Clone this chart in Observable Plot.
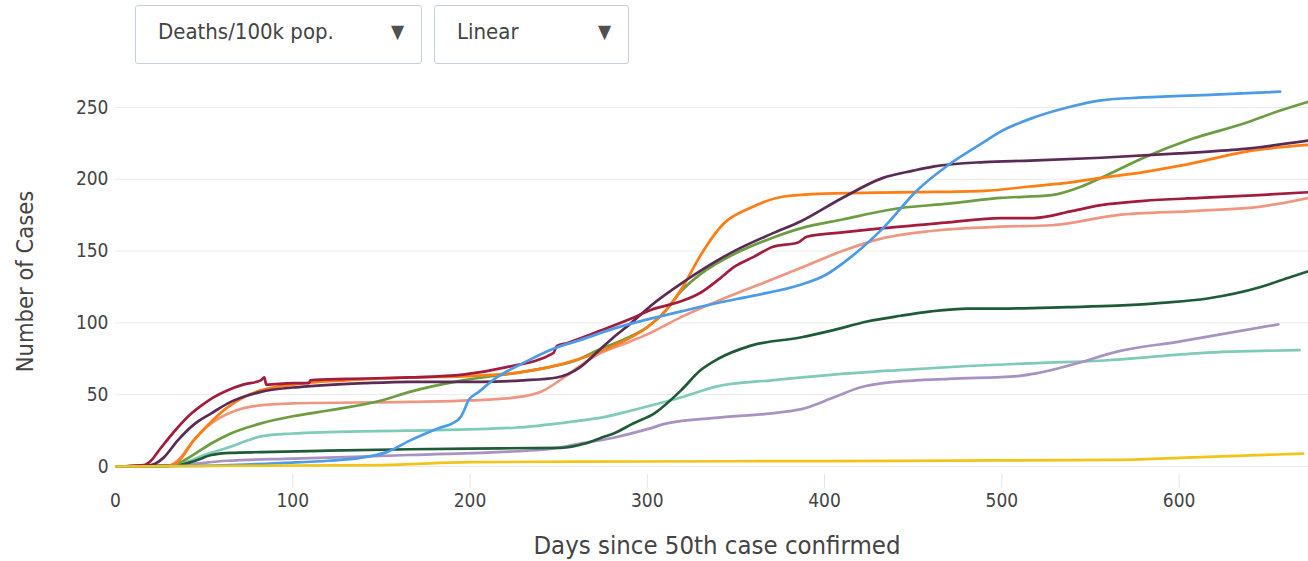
<!DOCTYPE html>
<html><head><meta charset="utf-8">
<script src="https://cdn.jsdelivr.net/npm/d3@7"></script>
<script src="https://cdn.jsdelivr.net/npm/@observablehq/plot@0.6"></script>
<style>
html,body{margin:0;padding:0;background:#fff;}
body{width:1308px;height:561px;overflow:hidden;font-family:"DejaVu Sans Condensed","DejaVu Sans",sans-serif;font-stretch:condensed;}
#controls{position:relative;width:1308px;height:70px;}
.dd{position:absolute;top:5px;height:59px;box-sizing:border-box;border:1px solid #c6cfdd;border-radius:3px;background:#fff;color:#444;font-size:22px;}
.dd .lbl{position:absolute;left:22px;top:0;line-height:52px;}
.dd .arr{position:absolute;top:0;line-height:50px;font-size:19px;color:#505050;}
#chart svg{display:block;}
</style>
</head><body>
<div id="controls">
  <div class="dd" style="left:135px;width:287px;"><span class="lbl">Deaths/100k pop.</span><span class="arr" style="left:255px;">&#9660;</span></div>
  <div class="dd" style="left:434px;width:195px;"><span class="lbl">Linear</span><span class="arr" style="left:163px;">&#9660;</span></div>
</div>
<div id="chart"></div>
<script>
// [day, deaths per 100k]
const seriesA = [[0,0],[30,0.5],[35,4],[44,18],[52,28],[59,34],[68,39],[78,42],[100,44],[166,45],[200,46],[225,48],[240,52],[253,62],[262,70],[272,78],[286,85],[300,92],[319,104],[349,120],[370,130],[390,140],[410,150],[433,159],[460,164],[499,167],[528,168],[565,175],[610,178],[646,181],[673,187]];
const seriesB = [[0,0],[35,1],[40,3],[50,8],[63,13],[72,17],[82,21],[100,23],[120,24],[166,25],[225,27],[262,32],[274,34],[291,39],[319,48],[340,56],[370,60],[405,64],[440,67],[481,70],[520,72],[560,74],[612,79],[668,81]];
const seriesC = [[0,0],[35,1],[63,4],[100,5.5],[166,8],[244,12],[262,16],[281,20],[300,26],[311,30],[340,34],[377,38],[387,40],[405,48],[420,55],[433,58],[470,61],[509,63],[520,65],[540,71],[565,80],[600,87],[656,99]];
const seriesD = [[0,0],[35,1],[45,4],[54,8],[65,9.5],[82,10],[120,11],[166,12],[200,12.5],[251,13],[265,16],[274,20],[281,23],[292,30],[304,37],[319,53],[330,67],[340,75],[358,84],[387,90],[405,95],[424,101],[443,105],[460,108],[481,110],[499,110],[537,111],[565,112],[590,114],[616,117],[646,125],[663,132],[673,136]];
const seriesE = [[0,0],[30,0.5],[35,2],[45,9],[54,16],[65,23],[82,30],[100,35],[120,39],[150,46],[166,52],[196,60],[225,65],[244,69],[260,74],[272,81],[286,88],[300,97],[310,108],[319,122],[330,134],[349,148],[370,159],[387,166],[410,172],[443,180],[470,183],[499,187],[528,189],[545,195],[556,201],[580,215],[607,228],[637,239],[655,247],[673,254]];
const seriesF = [[0,0],[30,0.5],[35,3],[44,18],[53,30],[63,41],[72,48],[82,53],[100,57],[130,60],[166,62],[200,63],[225,65],[244,69],[262,75],[281,84],[300,97],[310,108],[320,125],[330,147],[343,169],[358,180],[377,188],[400,190],[450,191],[490,192],[516,195],[540,198],[556,201],[580,205],[603,210],[641,220],[673,224]];
const seriesG = [[0,0],[20,1],[27,6],[35,18],[45,30],[54,37],[65,45],[82,52],[100,55],[110,56],[140,58],[166,59],[206,59],[230,60],[249,62],[262,69],[272,80],[281,90],[291,100],[302,112],[321,129],[349,150],[370,162],[387,171],[410,187],[433,201],[450,206],[462,209],[490,212],[516,213],[556,215],[600,218],[635,221],[673,227]];
const seriesH = [[0,0],[16,1],[20,4],[25,12],[35,27],[42,36],[48,42],[55,48],[63,53],[72,57],[82,60],[84,62],[85,57],[100,58],[109,58],[110,60],[130,61],[166,62],[196,64],[220,69],[247,79],[249,84],[255,86],[270,93],[291,103],[302,109],[319,115],[330,121],[340,130],[349,139],[360,146],[371,153],[385,156],[390,160],[410,163],[433,166],[470,170],[499,173],[518,173],[540,178],[556,182],[580,185],[612,187],[645,189],[673,191]];
const seriesI = [[0,0],[30,0.3],[60,0.8],[95,2.5],[120,4],[138,6],[153,10],[166,18],[175,23],[183,27],[190,30],[195,35],[197,40],[199,46],[205,52],[215,62],[230,72],[247,82],[262,88],[281,96],[302,103],[319,108],[340,114],[360,119],[385,126],[400,133],[415,146],[433,166],[452,192],[471,211],[490,226],[499,233],[518,243],[537,250],[556,255],[580,257],[620,259],[657,261]];
const seriesJ = [[0,0],[150,1],[200,3],[300,3.5],[400,3.8],[500,4.2],[565,4.6],[600,6],[670,9]];

const seriesNames = ["A", "B", "C", "D", "E", "F", "G", "H", "I", "J"];
const seriesData = [seriesA, seriesB, seriesC, seriesD, seriesE, seriesF, seriesG, seriesH, seriesI, seriesJ];
const seriesColors = ["#ef9683", "#7fcab8", "#a892c4", "#1f5b36", "#6b9d41", "#ff7d12", "#5a2b55", "#a41c3d", "#4b9be6", "#f2c417"];
const xTicks = [0, 100, 200, 300, 400, 500, 600];
const xTickMarks = [100, 200, 300, 400, 500, 600];
const yTicks = [0, 50, 100, 150, 200, 250];
const xTitle = "Days since 50th case confirmed";
const yTitle = "Number of Cases";

const rows = seriesNames.flatMap((name, i) => seriesData[i].map(([d, v]) => ({name, d, v})));

const font = "'DejaVu Sans Condensed', 'DejaVu Sans', sans-serif";
const chart = Plot.plot({
  width: 1308, height: 491,
  marginLeft: 115, marginRight: 0, marginTop: 10, marginBottom: 87,
  x: {domain: [0, 673]},
  y: {domain: [-5.57, 268.8]},
  color: {domain: seriesNames, range: seriesColors},
  style: {fontFamily: font, fontStretch: "condensed", fontSize: "19px", color: "#444", background: "#fff"},
  marks: [
    Plot.gridY(yTicks, {stroke: "#ebebeb", strokeOpacity: 1, strokeWidth: 1}),
    Plot.axisY(yTicks, {tickSize: 0, tickPadding: 7, label: null, fill: "#444", fontSize: 19}),
    Plot.axisX(xTickMarks, {tickSize: 14, stroke: "#e4e4e4", tickFormat: () => "", label: null}),
    Plot.axisX(xTicks, {tickSize: 0, tickPadding: 19, label: null, fill: "#444", fontSize: 19}),
    Plot.text([xTitle], {frameAnchor: "bottom", dx: 5, dy: 79, fontSize: 25.5, fill: "#444"}),
    Plot.text([yTitle], {frameAnchor: "left", textAnchor: "middle", rotate: -90, dx: -90, dy: 4, fontSize: 23.5, fill: "#444"}),
    Plot.line(rows, {x: "d", y: "v", z: "name", stroke: "name", strokeWidth: 2.7, curve: "monotone-x", clip: true})
  ]
});
document.getElementById("chart").appendChild(chart);
</script>
</body></html>
